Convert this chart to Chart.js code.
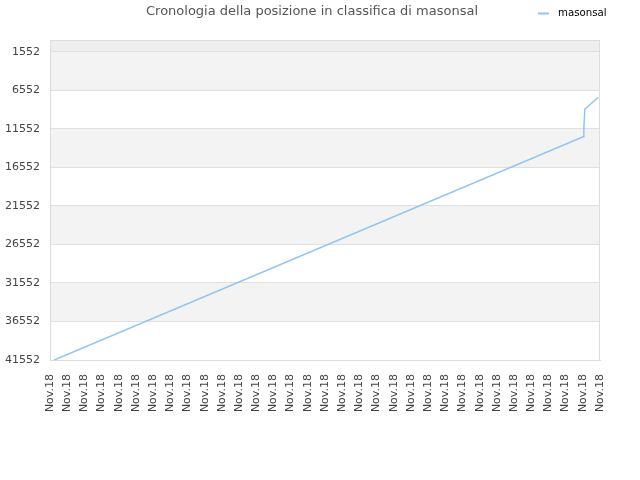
<!DOCTYPE html>
<html>
<head>
<meta charset="utf-8">
<script src="https://cdn.jsdelivr.net/npm/chart.js@4"></script>
<style>
  body { margin: 0; background: #fff; }
  #wrap { width: 640px; height: 480px; }
</style>
</head>
<body>
<div id="wrap"><canvas id="graph" width="640" height="480"></canvas></div>
<script>
// values (x = position along the date axis, 0..32)
var xPos = [0.25, 31.02, 31.06, 31.12, 31.22, 31.9];
var ranks = [41552, 12557, 11427, 8960, 8791, 7440];
var xLabel = 'Nov.18';
var yTicks = [1552, 6552, 11552, 16552, 21552, 26552, 31552, 36552, 41552];
var titleText = 'Cronologia della posizione in classifica di masonsal';
var seriesName = 'masonsal';

var points = [];
for (let i = 0; i < xPos.length; i++) {
  points.push({x: xPos[i], y: ranks[i]});
}

// grey / white bands + title and legend
const decor = {
  id: 'decor',
  beforeDraw: function(c) {
    var ctx = c.ctx, a = c.chartArea, y = c.scales.y;
    ctx.save();
    var top = y.getPixelForValue(0);
    var first = y.getPixelForValue(yTicks[0]);
    ctx.fillStyle = '#eeeeee';
    ctx.fillRect(a.left, top, a.right - a.left, first - top);
    for (let i = 0; i < yTicks.length - 1; i++) {
      if (i % 2 == 0) {
        var p1 = y.getPixelForValue(yTicks[i]);
        var p2 = y.getPixelForValue(yTicks[i + 1]);
        ctx.fillStyle = '#f3f3f3';
        ctx.fillRect(a.left, p1, a.right - a.left, p2 - p1);
      }
    }
    ctx.restore();
  },
  afterDraw: function(c) {
    var ctx = c.ctx, a = c.chartArea;
    ctx.save();
    ctx.font = '13px "DejaVu Sans"';
    ctx.fillStyle = '#555555';
    ctx.textAlign = 'center';
    ctx.textBaseline = 'middle';
    ctx.fillText(titleText, 312, 12);
    ctx.strokeStyle = '#90c4f4';
    ctx.lineWidth = 2;
    ctx.beginPath();
    ctx.moveTo(538, 13.5);
    ctx.lineTo(549, 13.5);
    ctx.stroke();
    ctx.font = '10.2px "DejaVu Sans"';
    ctx.fillStyle = '#000000';
    ctx.textAlign = 'left';
    ctx.fillText(seriesName, 558, 13);
    // frame
    ctx.strokeStyle = '#dddddd';
    ctx.lineWidth = 1;
    ctx.strokeRect(a.left + 0.5, a.top + 0.5, a.right - a.left - 1, a.bottom - a.top);
    ctx.restore();
  }
};

var ctx = document.getElementById('graph');
var chart = new Chart(ctx, {
  type: 'line',
  data: {
    datasets: [{
      label: seriesName,
      data: points,
      borderColor: '#90c4f4',
      borderWidth: 1.5,
      pointRadius: 0,
      fill: false,
      tension: 0
    }]
  },
  options: {
    responsive: false,
    animation: false,
    layout: { padding: { top: 40, right: 40, left: 0, bottom: 0 } },
    plugins: {
      legend: { display: false },
      title: { display: false },
      tooltip: { enabled: false }
    },
    scales: {
      x: {
        type: 'linear',
        min: 0,
        max: 32,
        grid: { display: false },
        border: { color: '#dddddd' },
        afterBuildTicks: function(s) {
          var t = [];
          for (let i = 0; i <= 32; i++) t.push({value: i});
          s.ticks = t;
        },
        afterFit: function(s) { s.height = 120; },
        ticks: {
          autoSkip: false,
          maxRotation: 90,
          minRotation: 90,
          color: '#444444',
          font: { family: 'DejaVu Sans', size: 11 },
          padding: 6,
          callback: function() { return xLabel; }
        }
      },
      y: {
        reverse: true,
        min: 0,
        max: 41552,
        afterBuildTicks: function(s) {
          s.ticks = yTicks.map(function(v) { return {value: v}; });
        },
        afterFit: function(s) { s.width = 50; },
        grid: { color: '#e0e0e0', drawTicks: false },
        border: { color: '#dddddd' },
        ticks: {
          color: '#444444',
          font: { family: 'DejaVu Sans', size: 11 },
          padding: 10,
          callback: function(v) { return String(v); }
        }
      }
    }
  },
  plugins: [decor]
});
</script>
</body>
</html>
